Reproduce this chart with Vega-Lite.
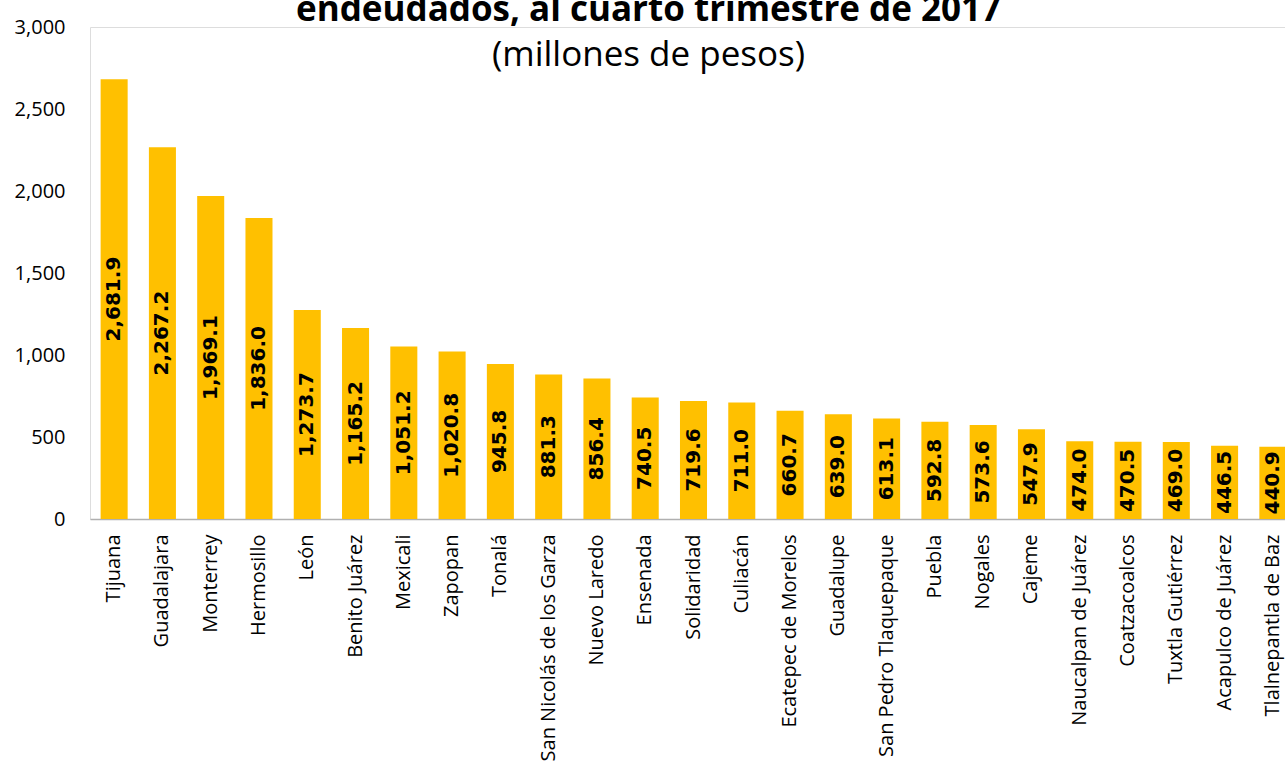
{
  "$schema": "https://vega.github.io/schema/vega-lite/v6.json",
  "autosize": {"type": "none"},
  "padding": {"left": 90, "top": 27, "right": 0, "bottom": 250},
  "width": 1207,
  "height": 492,
  "background": "white",
  "title": {
    "text": "endeudados, al cuarto trimestre de 2017",
    "subtitle": "(millones de pesos)",
    "font": "Open Sans",
    "fontSize": 35,
    "fontWeight": "bold",
    "subtitleFont": "Open Sans",
    "subtitleFontSize": 35,
    "subtitleColor": "black",
    "subtitlePadding": 10,
    "color": "black",
    "anchor": "middle",
    "offset": -56,
    "dx": -45
  },
  "data": {
    "values": [
      {"municipio": "Tijuana", "deuda": 2681.9},
      {"municipio": "Guadalajara", "deuda": 2267.2},
      {"municipio": "Monterrey", "deuda": 1969.1},
      {"municipio": "Hermosillo", "deuda": 1836.0},
      {"municipio": "León", "deuda": 1273.7},
      {"municipio": "Benito Juárez", "deuda": 1165.2},
      {"municipio": "Mexicali", "deuda": 1051.2},
      {"municipio": "Zapopan", "deuda": 1020.8},
      {"municipio": "Tonalá", "deuda": 945.8},
      {"municipio": "San Nicolás de los Garza", "deuda": 881.3},
      {"municipio": "Nuevo Laredo", "deuda": 856.4},
      {"municipio": "Ensenada", "deuda": 740.5},
      {"municipio": "Solidaridad", "deuda": 719.6},
      {"municipio": "Culiacán", "deuda": 711.0},
      {"municipio": "Ecatepec de Morelos", "deuda": 660.7},
      {"municipio": "Guadalupe", "deuda": 639.0},
      {"municipio": "San Pedro Tlaquepaque", "deuda": 613.1},
      {"municipio": "Puebla", "deuda": 592.8},
      {"municipio": "Nogales", "deuda": 573.6},
      {"municipio": "Cajeme", "deuda": 547.9},
      {"municipio": "Naucalpan de Juárez", "deuda": 474.0},
      {"municipio": "Coatzacoalcos", "deuda": 470.5},
      {"municipio": "Tuxtla Gutiérrez", "deuda": 469.0},
      {"municipio": "Acapulco de Juárez", "deuda": 446.5},
      {"municipio": "Tlalnepantla de Baz", "deuda": 440.9}
    ]
  },
  "encoding": {
    "x": {
      "field": "municipio",
      "type": "nominal",
      "sort": null,
      "scale": {"paddingInner": 0.44, "paddingOuter": 0.22},
      "axis": {
        "title": null,
        "labelAngle": -90,
        "labelFont": "Open Sans",
        "labelFontSize": 20,
        "labelColor": "black",
        "labelPadding": 15,
        "labelLimit": 0,
        "ticks": false,
        "domainColor": "#b0b0b0",
        "domainWidth": 1.5
      }
    }
  },
  "layer": [
    {
      "mark": {"type": "bar", "color": "#FFC000"},
      "encoding": {
        "y": {
          "field": "deuda",
          "type": "quantitative",
          "scale": {"domain": [0, 3000]},
          "axis": {
            "title": null,
            "values": [0, 500, 1000, 1500, 2000, 2500, 3000],
            "format": ",d",
            "labelFont": "Open Sans",
            "labelFontSize": 20,
            "labelColor": "black",
            "labelPadding": 25,
            "grid": false,
            "ticks": false,
            "domain": false
          }
        }
      }
    },
    {
      "mark": {"type": "text", "angle": 270, "font": "DejaVu Sans", "fontSize": 20, "fontWeight": "bold", "color": "black", "align": "center", "baseline": "middle"},
      "encoding": {
        "y": {"field": "deuda", "type": "quantitative", "scale": {"domain": [0, 6000]}, "axis": null},
        "text": {"field": "deuda", "type": "quantitative", "format": ",.1f"}
      }
    }
  ],
  "resolve": {"scale": {"y": "independent"}}
}
